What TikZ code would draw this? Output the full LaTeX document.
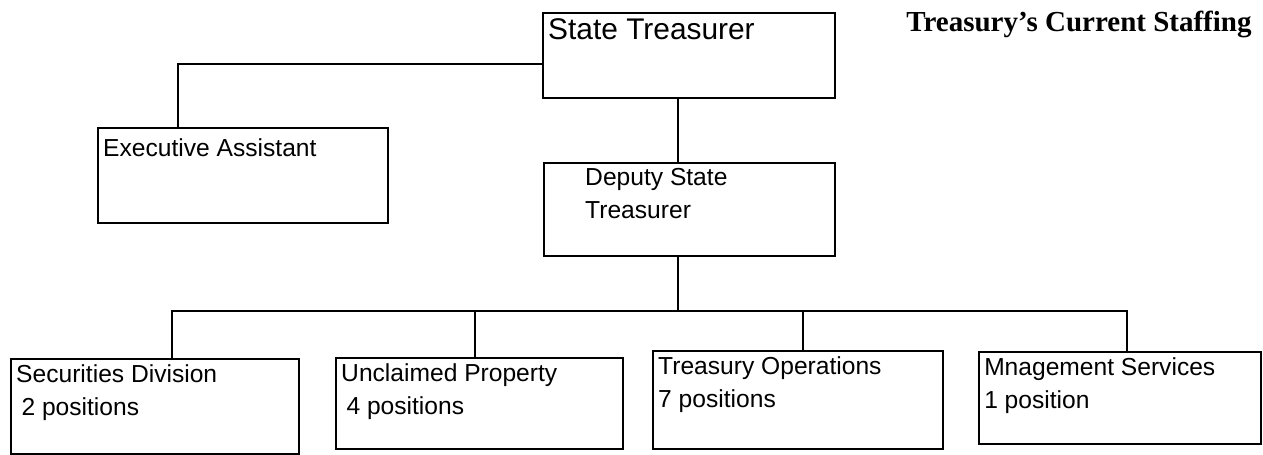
\documentclass[tikz,border=0pt]{standalone}
\usepackage{fontspec}
\setmainfont{Liberation Serif}
\setsansfont{Liberation Sans}
\newcommand{\boxtxt}[3]{\parbox[t][\dimexpr#2-6pt\relax][t]{\dimexpr#1-6pt\relax}{#3}}
\tikzset{
  unit/.style={draw, line width=1.1pt, inner sep=3pt, anchor=north west,
    font=\sffamily\fontsize{14}{19}\selectfont},
  link/.style={line width=1.1pt},
}

\begin{document}
\begin{tikzpicture}
  \useasboundingbox (0,0) rectangle (25.26,-9.10);

  % top of the chart
  \node[unit, font=\sffamily\fontsize{17}{20}\selectfont] (st) at (10.84,-0.24)
    {\boxtxt{5.84cm}{1.70cm}{State Treasurer}};
  \node[unit] (ea) at (1.94,-2.54)
    {\boxtxt{5.80cm}{1.90cm}{\vspace*{3pt}Executive Assistant}};
  \node[unit] (dep) at (10.86,-3.24)
    {\boxtxt{5.82cm}{1.86cm}{\leftskip=0.72cm Deputy State\\Treasurer}};

  \node[font=\bfseries\fontsize{16.5}{19}\selectfont, anchor=base west, inner sep=0pt]
    (title) at (18.12,-0.64) {Treasury's Current Staffing};

  % divisions
  \node[unit] (sec) at (0.20,-7.16)
    {\boxtxt{5.76cm}{1.90cm}{Securities Division\\\hspace*{3pt}2 positions}};
  \node[unit] (uncl) at (6.70,-7.14)
    {\boxtxt{5.74cm}{1.82cm}{Unclaimed Property\\\hspace*{3pt}4 positions}};
  \node[unit] (treas) at (13.04,-7.00)
    {\boxtxt{5.80cm}{1.96cm}{Treasury Operations\\7 positions}};
  \node[unit] (mgmt) at (19.56,-7.02)
    {\boxtxt{5.64cm}{1.84cm}{Mnagement Services\\1 position}};

  % connectors
  \coordinate (e1) at (3.56,-1.28);
  \coordinate (j0) at (13.56,-6.22);
  \coordinate (d1) at (3.44,-6.22);
  \coordinate (d2) at (9.50,-6.22);
  \coordinate (d3) at (16.06,-6.22);
  \coordinate (d4) at (22.54,-6.22);

  \draw[link] (ea.north -| e1) |- (st.west |- e1);
  \draw[link] (st.south -| j0) -- (dep.north -| j0);
  \draw[link] (dep.south -| j0) -- (j0);
  \draw[link] (sec.north -| d1) -- (d1) -- (d4) -- (mgmt.north -| d4);
  \draw[link] (d2) -- (uncl.north -| d2);
  \draw[link] (d3) -- (treas.north -| d3);
\end{tikzpicture}
\end{document}
